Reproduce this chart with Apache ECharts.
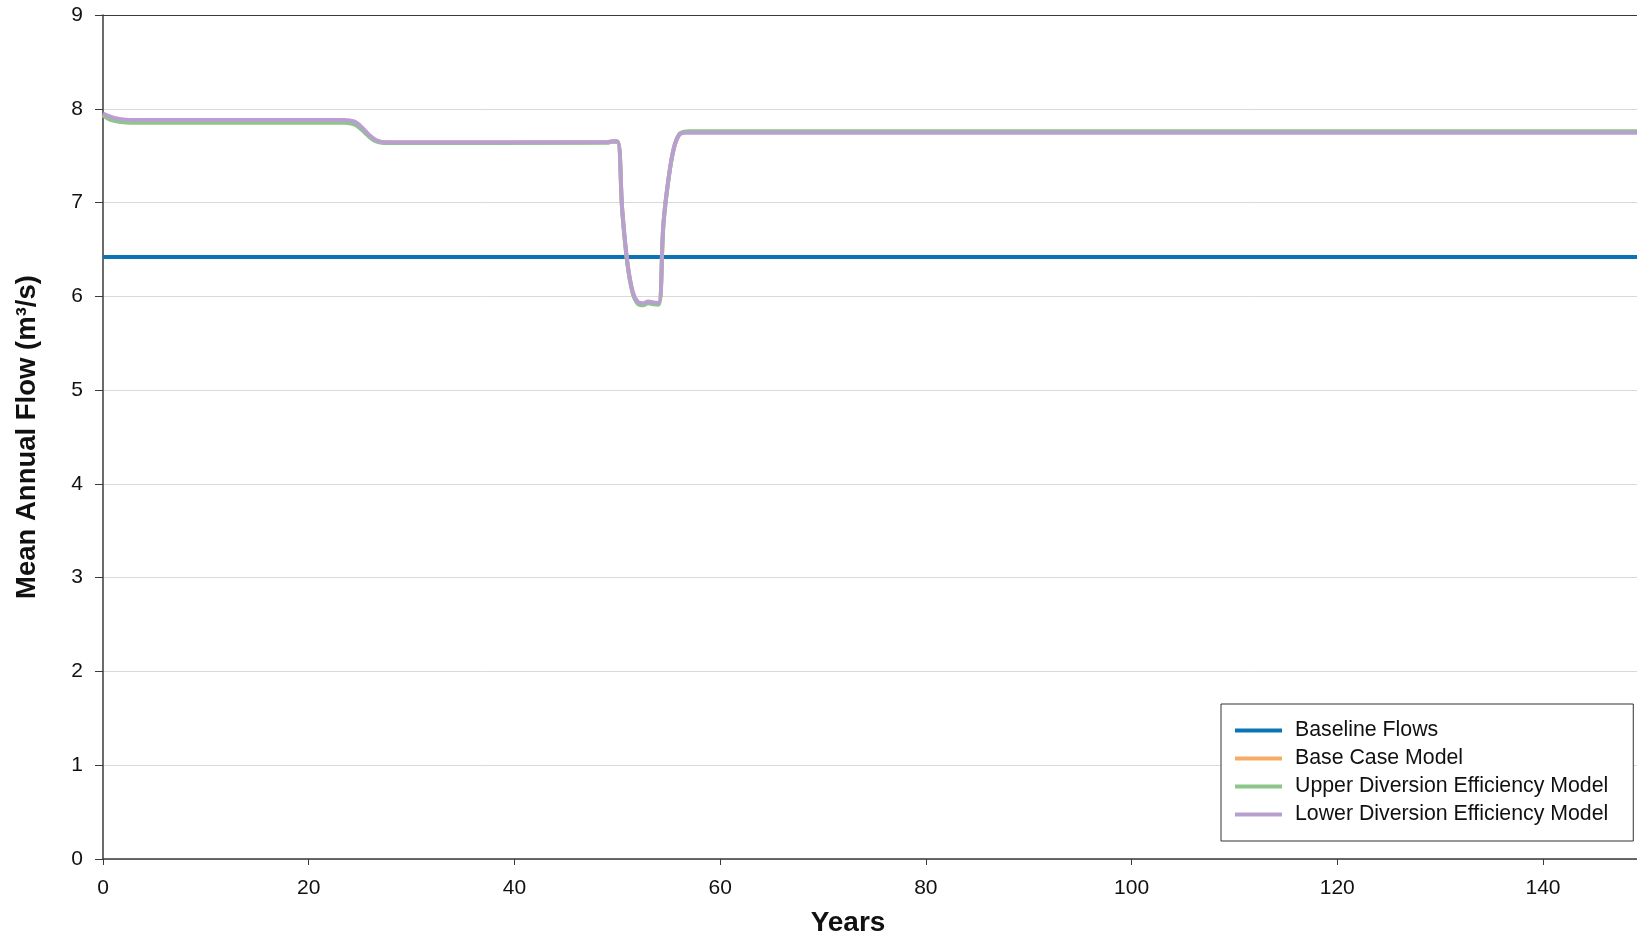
<!DOCTYPE html>
<html>
<head>
<meta charset="utf-8">
<title>Mean Annual Flow</title>
<script src="https://cdn.jsdelivr.net/npm/echarts@6/dist/echarts.min.js"></script>
<style>
  html, body { margin: 0; padding: 0; background: #ffffff; }
  #chart { width: 1637px; height: 936px; }
</style>
</head>
<body>
<div id="chart"></div>
<script>
// Simulation years at which the model flows are recorded
const modelYears = [
  0, 0.5, 1, 1.5, 2, 3,
  23.5, 24, 24.5, 25, 25.5, 26, 26.5, 27, 27.5,
  49, 49.5, 50, 50.5, 51, 51.5, 52, 52.5, 53, 53.5, 54,
  54.5, 55, 55.5, 56, 56.5, 57, 58, 150
];

// Mean annual flow (m³/s) per scenario
const baselineYears = [0, 150];
const baselineFlow = [6.42, 6.42];
const baseCaseFlow = [
  7.94, 7.913, 7.89, 7.878, 7.872, 7.865,
  7.865, 7.86, 7.845, 7.805, 7.75, 7.70, 7.662, 7.645, 7.64,
  7.642, 7.652, 7.652, 6.89, 6.34, 6.04, 5.93, 5.915, 5.935, 5.925, 5.92,
  6.79, 7.27, 7.58, 7.72, 7.75, 7.752, 7.752, 7.752
];
const upperFlow = [
  7.93, 7.895, 7.873, 7.862, 7.856, 7.85,
  7.85, 7.845, 7.83, 7.79, 7.74, 7.69, 7.655, 7.64, 7.635,
  7.638, 7.648, 7.648, 6.88, 6.33, 6.03, 5.92, 5.905, 5.925, 5.915, 5.91,
  6.78, 7.26, 7.58, 7.725, 7.755, 7.76, 7.76, 7.76
];
const lowerFlow = [
  7.95, 7.925, 7.905, 7.893, 7.886, 7.88,
  7.88, 7.875, 7.86, 7.82, 7.765, 7.71, 7.67, 7.65, 7.643,
  7.645, 7.655, 7.655, 6.90, 6.35, 6.05, 5.94, 5.925, 5.945, 5.935, 5.93,
  6.80, 7.27, 7.58, 7.72, 7.743, 7.745, 7.745, 7.745
];

const seriesNames = ['Baseline Flows', 'Base Case Model', 'Upper Diversion Efficiency Model', 'Lower Diversion Efficiency Model'];
const seriesColors = ['#0a74b4', '#f5ad66', '#8cc68a', '#b99fd0'];

// Year ticks (the plot is clipped on the right just past year 149) and flow ticks
const xTicks = { min: 0, max: 149.14, interval: 20 };
const yTicks = { min: 0, max: 9, interval: 1 };

function pairs(xs, ys) {
  return xs.map((x, i) => [x, ys[i]]);
}

const font = 'Liberation Sans, Arial, sans-serif';
const axisDark = '#3a3a3a';

const chart = echarts.init(document.getElementById('chart'), null, { renderer: 'canvas' });

function lineSeries(idx, data) {
  return {
    name: seriesNames[idx],
    type: 'line',
    data: data,
    showSymbol: false,
    symbol: 'none',
    smooth: 0.4,
    clip: true,
    lineStyle: { width: 4, color: seriesColors[idx] },
    itemStyle: { color: seriesColors[idx] },
    emphasis: { disabled: true },
    z: 2 + idx
  };
}

chart.setOption({
  animation: false,
  backgroundColor: '#ffffff',
  grid: {
    left: 103,
    top: 15,
    bottom: 77,
    right: 0,
    containLabel: false,
    outerBoundsMode: 'none',
    show: false
  },
  legend: {
    orient: 'vertical',
    left: 1221,
    top: 704,
    data: seriesNames,
    icon: 'rect',
    itemWidth: 47,
    itemHeight: 4,
    itemGap: 7,
    padding: [16, 25, 16, 14],
    borderColor: '#333333',
    borderWidth: 1,
    backgroundColor: '#ffffff',
    selectedMode: false,
    textStyle: {
      fontFamily: font,
      fontSize: 21.3,
      color: '#111111',
      lineHeight: 21,
      padding: [0, 0, 0, 8]
    }
  },
  xAxis: [
    {
      type: 'value',
      position: 'bottom',
      min: xTicks.min,
      max: xTicks.max,
      interval: xTicks.interval,
      name: 'Years',
      nameLocation: 'middle',
      nameGap: 50,
      nameTextStyle: {
        fontFamily: font,
        fontSize: 28,
        fontWeight: 'bold',
        color: '#111111',
        padding: [0, 44, 0, 0]
      },
      axisLine: { show: true, onZero: false, lineStyle: { color: axisDark, width: 1.5 } },
      axisTick: { show: true, inside: false, length: 6, lineStyle: { color: axisDark, width: 1 } },
      axisLabel: {
        fontFamily: font,
        fontSize: 21,
        color: '#111111',
        margin: 19,
        showMaxLabel: false
      },
      splitLine: { show: false }
    },
    {
      // top frame line of the plot area
      type: 'value',
      position: 'top',
      min: xTicks.min,
      max: xTicks.max,
      interval: xTicks.interval,
      axisLine: { show: true, onZero: false, lineStyle: { color: axisDark, width: 1.2 } },
      axisTick: { show: false },
      axisLabel: { show: false },
      splitLine: { show: false }
    }
  ],
  yAxis: {
    type: 'value',
    min: yTicks.min,
    max: yTicks.max,
    interval: yTicks.interval,
    name: 'Mean Annual Flow (m³/s)',
    nameLocation: 'middle',
    nameGap: 62,
    nameTextStyle: {
      fontFamily: font,
      fontSize: 27.5,
      fontWeight: 'bold',
      color: '#111111'
    },
    axisLine: { show: true, onZero: false, lineStyle: { color: axisDark, width: 1.5 } },
    axisTick: { show: true, inside: false, length: 8, lineStyle: { color: axisDark, width: 1 } },
    axisLabel: {
      fontFamily: font,
      fontSize: 21,
      color: '#111111',
      margin: 20
    },
    splitLine: { show: true, lineStyle: { color: '#d9d9d9', width: 1 } }
  },
  series: [
    lineSeries(0, pairs(baselineYears, baselineFlow)),
    lineSeries(1, pairs(modelYears, baseCaseFlow)),
    lineSeries(2, pairs(modelYears, upperFlow)),
    lineSeries(3, pairs(modelYears, lowerFlow))
  ]
});
</script>
</body>
</html>
